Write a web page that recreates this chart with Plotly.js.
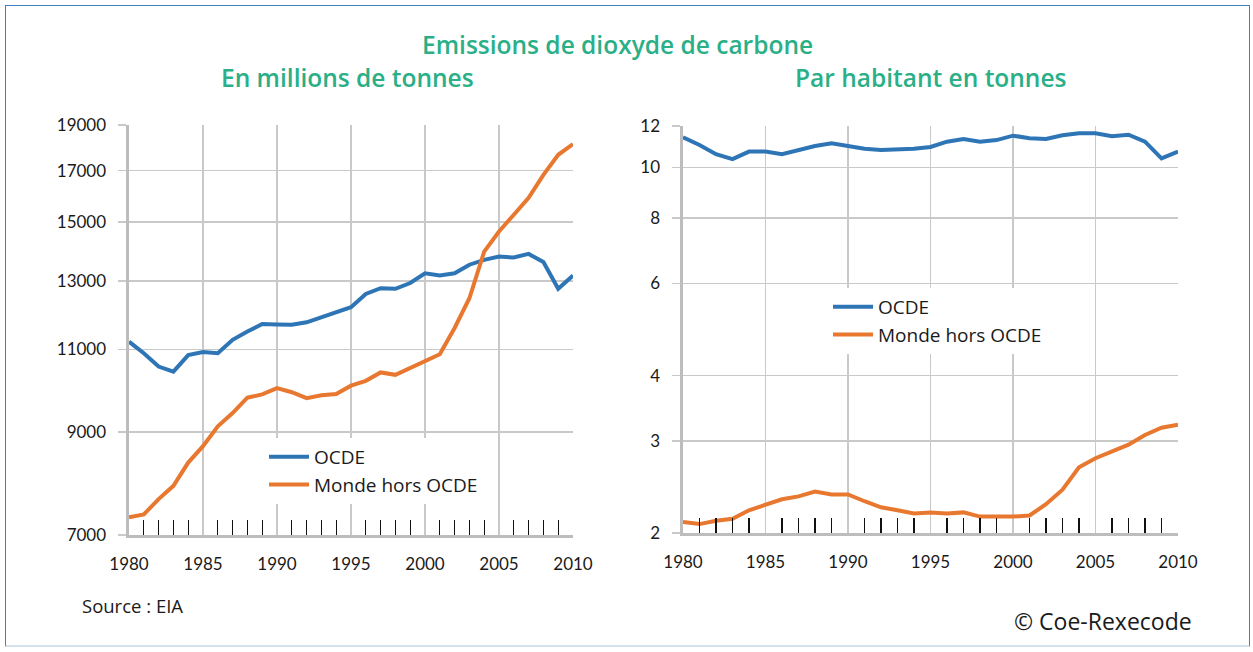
<!DOCTYPE html>
<html>
<head>
<meta charset="utf-8">
<script src="https://cdn.plot.ly/plotly-3.0.1.min.js"></script>
<style>
  html, body { margin:0; padding:0; background:#fff; }
  #chart { width:1253px; height:652px; position:relative; }
  #frame { position:absolute; left:5px; top:5px; width:1245px; height:642px;
           border-left:1.5px solid #3f7fc4; border-top:1.5px solid #3f7fc4; border-right:1.5px solid #3f7fc4;
           border-bottom:2px solid #d5e2ee; pointer-events:none; box-sizing:border-box; }
</style>
</head>
<body>
<div id="chart"></div>
<div id="frame"></div>
<script>
const years = [1980,1981,1982,1983,1984,1985,1986,1987,1988,1989,1990,1991,1992,1993,1994,1995,1996,1997,1998,1999,2000,2001,2002,2003,2004,2005,2006,2007,2008,2009,2010];
const ocdeTotal = [11210,10900,10550,10420,10850,10930,10900,11260,11490,11700,11690,11680,11750,11900,12050,12190,12590,12770,12750,12930,13240,13170,13240,13520,13680,13790,13760,13880,13610,12750,13170];
const horsTotal = [7310,7360,7640,7890,8350,8690,9120,9420,9780,9860,10010,9910,9770,9840,9870,10070,10190,10400,10340,10510,10680,10870,11590,12460,13960,14660,15270,15910,16830,17670,18140];
const ocdePC = [11.42,11.04,10.60,10.37,10.72,10.72,10.60,10.80,10.99,11.12,10.99,10.86,10.80,10.83,10.86,10.94,11.20,11.33,11.20,11.28,11.50,11.37,11.33,11.52,11.62,11.62,11.47,11.55,11.20,10.41,10.72];
const horsPC = [2.10,2.08,2.11,2.13,2.21,2.26,2.32,2.35,2.40,2.37,2.37,2.30,2.24,2.21,2.18,2.19,2.18,2.19,2.15,2.15,2.15,2.16,2.27,2.42,2.67,2.78,2.86,2.95,3.08,3.18,3.22];
const leftTicks = [7000,9000,11000,13000,15000,17000,19000];
const leftTickText = ['7000','9000','11000','13000','15000','17000','19000'];
const rightTicks = [2,3,4,6,8,10,12];
const rightTickText = ['2','3','4','6','8','10','12'];
const seriesNames = ['OCDE','Monde hors OCDE'];
const mainTitle = 'Emissions de dioxyde de carbone';
const subTitleLeft = 'En millions de tonnes';
const subTitleRight = 'Par habitant en tonnes';
const sourceText = 'Source : EIA';
const copyrightText = '© Coe-Rexecode';

const W = 1253, H = 652;
const px = v => v / W;
const py = v => 1 - v / H;
const BLUE = '#2e75b6', ORANGE = '#e8782f', GRID = '#c9c9c9', AXIS = '#bdbdbd', TXT = '#1a1a1a', TEAL = '#2aaf87';
const FONT = 'Lato, "Open Sans", sans-serif';
const FONT2 = '"Open Sans", Lato, sans-serif';

const traces = [
  {x: years, y: ocdeTotal, name: seriesNames[0], type: 'scatter', mode: 'lines', line: {color: BLUE, width: 4}, xaxis: 'x', yaxis: 'y', legend: 'legend'},
  {x: years, y: horsTotal, name: seriesNames[1], type: 'scatter', mode: 'lines', line: {color: ORANGE, width: 4}, xaxis: 'x', yaxis: 'y', legend: 'legend'},
  {x: years, y: ocdePC, name: seriesNames[0], type: 'scatter', mode: 'lines', line: {color: BLUE, width: 4}, xaxis: 'x2', yaxis: 'y2', legend: 'legend2'},
  {x: years, y: horsPC, name: seriesNames[1], type: 'scatter', mode: 'lines', line: {color: ORANGE, width: 4}, xaxis: 'x2', yaxis: 'y2', legend: 'legend2'}
];

function xAxis(domain, anchor) {
  return {
    domain: domain, anchor: anchor, range: [1980, 2010], tick0: 1980, dtick: 5,
    showgrid: true, gridcolor: GRID, gridwidth: 1.5,
    showline: true, linecolor: AXIS, linewidth: 3,
    ticks: '', ticklabelstandoff: 12,
    tickfont: {family: FONT, size: 17, color: TXT},
    minor: {dtick: 1, tick0: 1980, ticks: 'inside', ticklen: 15, tickcolor: '#111', tickwidth: 1.2, showgrid: false},
    zeroline: false, fixedrange: true
  };
}
function yAxis(domain, anchor, range, vals, text) {
  return {
    domain: domain, anchor: anchor, type: 'log', range: range,
    tickmode: 'array', tickvals: vals, ticktext: text,
    showgrid: true, gridcolor: GRID, gridwidth: 1.5,
    showline: true, linecolor: AXIS, linewidth: 3.5,
    ticks: 'outside', ticklen: 8, tickcolor: GRID, tickwidth: 1.5, ticklabelstandoff: 8,
    tickfont: {family: FONT, size: 17, color: TXT},
    zeroline: false, fixedrange: true
  };
}

const layout = {
  width: W, height: H,
  margin: {l: 0, r: 0, t: 0, b: 0},
  paper_bgcolor: '#fff', plot_bgcolor: '#fff',
  font: {family: FONT, color: TXT},
  xaxis: xAxis([px(129), px(573)], 'y'),
  yaxis: yAxis([py(535), py(125)], 'x', [Math.log10(7000), Math.log10(19000)], leftTicks, leftTickText),
  xaxis2: xAxis([px(683), px(1178)], 'y2'),
  yaxis2: yAxis([py(533), py(126)], 'x2', [Math.log10(2), Math.log10(12)], rightTicks, rightTickText),
  legend: {x: px(264), y: py(438), xanchor: 'left', yanchor: 'top', bgcolor: '#fff', borderwidth: 0,
           font: {family: FONT2, size: 19, color: TXT}, tracegroupgap: 0, itemwidth: 40},
  legend2: {x: px(828), y: py(288), xanchor: 'left', yanchor: 'top', bgcolor: '#fff', borderwidth: 0,
           font: {family: FONT2, size: 19, color: TXT}, tracegroupgap: 0, itemwidth: 40},
  annotations: [
    {text: mainTitle, x: px(617), y: py(44), xref: 'paper', yref: 'paper', xanchor: 'center', yanchor: 'middle', showarrow: false,
     font: {family: FONT2, size: 24.5, color: TEAL, weight: 600}},
    {text: subTitleLeft, x: px(347), y: py(78), xref: 'paper', yref: 'paper', xanchor: 'center', yanchor: 'middle', showarrow: false,
     font: {family: FONT2, size: 24.5, color: TEAL, weight: 600}},
    {text: subTitleRight, x: px(930), y: py(78), xref: 'paper', yref: 'paper', xanchor: 'center', yanchor: 'middle', showarrow: false,
     font: {family: FONT2, size: 24.5, color: TEAL, weight: 600}},
    {text: sourceText, x: px(80), y: py(605), xref: 'paper', yref: 'paper', xanchor: 'left', yanchor: 'middle', showarrow: false,
     font: {family: FONT2, size: 18.5, color: TXT}},
    {text: copyrightText, x: px(1194), y: py(621), xref: 'paper', yref: 'paper', xanchor: 'right', yanchor: 'middle', showarrow: false,
     font: {family: FONT2, size: 23, color: TXT}}
  ],
  showlegend: true
};

Plotly.newPlot('chart', traces, layout, {displayModeBar: false, staticPlot: true});
</script>
</body>
</html>
